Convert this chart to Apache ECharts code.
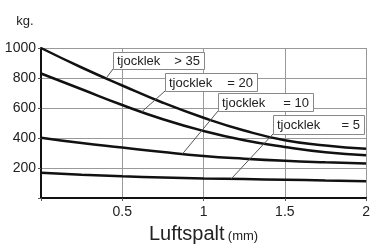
<!DOCTYPE html>
<html>
<head>
<meta charset="utf-8">
<script src="https://cdn.jsdelivr.net/npm/echarts@6/dist/echarts.min.js"></script>
<style>
  html, body { margin: 0; padding: 0; background: #fff; }
  #chart { width: 373px; height: 249px; }
</style>
</head>
<body>
<div id="chart"></div>
<script>
// luftspalt (mm)
const gaps = [0, 0.25, 0.5, 0.75, 1, 1.25, 1.5, 1.75, 2]
// kraft (kg) per tjocklek
const over35 = [1000, 870, 750, 635, 535, 450, 385, 350, 328]
const eq20 = [830, 725, 620, 525, 447, 385, 340, 305, 285]
const eq10 = [402, 366, 336, 306, 280, 262, 248, 238, 230]
const eq5 = [168, 155, 145, 137, 130, 126, 122, 117, 112]
const curveNames = ['> 35', '= 20', '= 10', '= 5']
// where each leader line meets its curve (luftspalt)
const leaderAt = [0.4, 0.62, 0.87, 1.17]

const curves = [over35, eq20, eq10, eq5]
const font = '"Liberation Sans", Arial, sans-serif'

const chart = echarts.init(document.getElementById('chart'))

function valueAt(values, x) {
  for (let i = 0; i < gaps.length - 1; i++) {
    if (x >= gaps[i] && x <= gaps[i + 1]) {
      const t = (x - gaps[i]) / (gaps[i + 1] - gaps[i])
      return values[i] + (values[i + 1] - values[i]) * t
    }
  }
  return values[values.length - 1]
}

const option = {
  animation: false,
  grid: { left: 41, right: 1, top: 48, bottom: 45 },
  xAxis: {
    type: 'value',
    min: 0,
    max: 2,
    interval: 0.5,
    name: '{a|Luftspalt} {b|(mm)}',
    nameLocation: 'middle',
    nameGap: 26,
    nameTextStyle: {
      rich: {
        a: { fontSize: 20, color: '#222', fontFamily: font },
        b: { fontSize: 13, color: '#222', fontFamily: font, padding: [4, 0, 0, 0] },
      },
    },
    axisLine: { lineStyle: { color: '#111', width: 2 } },
    axisTick: { show: true, length: 3, lineStyle: { color: '#555' } },
    axisLabel: {
      fontSize: 14,
      color: '#222',
      fontFamily: font,
      margin: 7,
      formatter: (v) => (v === 0 ? '' : String(v)),
    },
    splitLine: { show: true, lineStyle: { color: '#999', width: 1 } },
  },
  yAxis: {
    type: 'value',
    min: 0,
    max: 1000,
    interval: 200,
    name: 'kg.',
    nameLocation: 'end',
    nameGap: 27,
    nameTextStyle: {
      fontSize: 13,
      color: '#222',
      fontFamily: font,
      verticalAlign: 'middle',
      padding: [0, 32, 0, 0],
    },
    axisLine: { show: true, lineStyle: { color: '#111', width: 2 } },
    axisTick: { show: true, length: 3, lineStyle: { color: '#555' } },
    axisLabel: {
      fontSize: 14,
      color: '#222',
      fontFamily: font,
      margin: 5,
      formatter: (v) => (v === 0 ? '' : String(v)),
    },
    splitLine: { show: true, lineStyle: { color: '#999', width: 1 } },
  },
  series: curves.map((values, i) => ({
    name: curveNames[i],
    type: 'line',
    smooth: true,
    symbol: 'none',
    lineStyle: { color: '#111', width: 2.5 },
    data: gaps.map((g, j) => [g, values[j]]),
  })),
}
chart.setOption(option)

// label boxes, top-left corner + size in px
const boxes = [
  { x: 113, y: 52, w: 91, h: 17 },
  { x: 165, y: 73, w: 92, h: 18 },
  { x: 218, y: 93, w: 95, h: 18 },
  { x: 273, y: 115, w: 91, h: 19 },
]

const graphics = []
boxes.forEach((b, i) => {
  const end = chart.convertToPixel({ gridIndex: 0 }, [leaderAt[i], valueAt(curves[i], leaderAt[i])])
  graphics.push({
    type: 'line',
    shape: { x1: b.x, y1: b.y + b.h, x2: end[0], y2: end[1] },
    style: { stroke: '#555', lineWidth: 1 },
    z: 10,
  })
  graphics.push({
    type: 'rect',
    shape: { x: b.x + 0.5, y: b.y + 0.5, width: b.w, height: b.h },
    style: { fill: '#fff', stroke: '#888', lineWidth: 1 },
    z: 11,
  })
  graphics.push({
    type: 'text',
    x: b.x + 4,
    y: b.y + b.h / 2 + 1,
    style: { text: 'tjocklek', font: '13px ' + font, fill: '#222', textVerticalAlign: 'middle' },
    z: 12,
  })
  graphics.push({
    type: 'text',
    x: b.x + b.w - 4,
    y: b.y + b.h / 2 + 1,
    style: {
      text: curveNames[i],
      font: '13px ' + font,
      fill: '#222',
      textAlign: 'right',
      textVerticalAlign: 'middle',
    },
    z: 12,
  })
})
chart.setOption({ graphic: graphics })
</script>
</body>
</html>
